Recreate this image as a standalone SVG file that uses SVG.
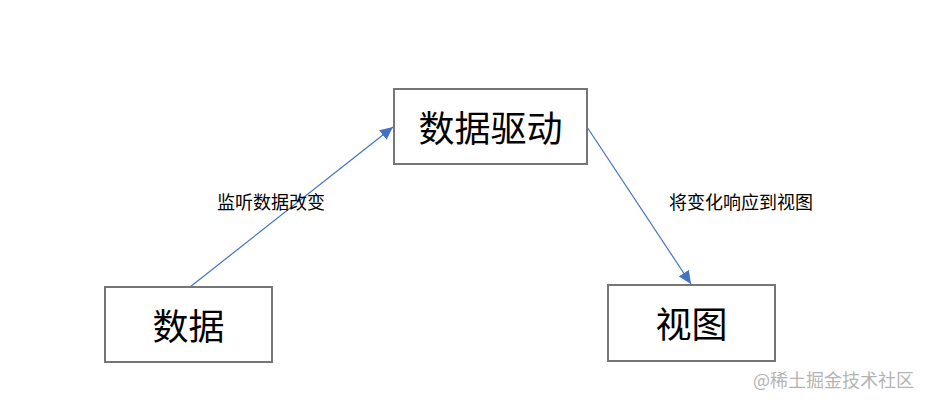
<svg xmlns="http://www.w3.org/2000/svg" width="933" height="405" viewBox="0 0 933 405">
  <style>
    .box { fill: #ffffff; stroke: #767676; stroke-width: 2; }
    .big { font-family: "Noto Sans CJK SC", "Liberation Sans", sans-serif; font-size: 36px; fill: #000000; text-anchor: middle; }
    .lbl { font-family: "Noto Sans CJK SC", "Liberation Sans", sans-serif; font-size: 18px; fill: #000000; text-anchor: middle; }
    .edge { fill: none; stroke: #4472C4; stroke-width: 1.2; }
    .wm { font-family: "Noto Sans CJK SC", "Liberation Sans", sans-serif; font-size: 18px; fill: #b4b4b4; }
  </style>
  <defs>
    <marker id="arrow" markerUnits="userSpaceOnUse" markerWidth="14" markerHeight="12" refX="13" refY="6" orient="auto">
      <path d="M0,0 L13,6 L0,12 Z" fill="#4472C4"/>
    </marker>
  </defs>
  <rect x="0" y="0" width="933" height="405" fill="#ffffff"/>
  <g id="connectors">
    <line class="edge" x1="190" y1="287" x2="393" y2="127" marker-end="url(#arrow)"/>
    <line class="edge" x1="587" y1="127" x2="691" y2="284" marker-end="url(#arrow)"/>
    <text class="lbl" x="271" y="209">监听数据改变</text>
    <text class="lbl" x="741" y="209">将变化响应到视图</text>
  </g>
  <g id="node-driver">
    <rect class="box" x="394" y="89" width="193" height="75"/>
    <text class="big" x="490.5" y="142">数据驱动</text>
  </g>
  <g id="node-data">
    <rect class="box" x="105" y="287" width="167" height="75"/>
    <text class="big" x="188.5" y="340">数据</text>
  </g>
  <g id="node-view">
    <rect class="box" x="608" y="285" width="167" height="76"/>
    <text class="big" x="691.5" y="338">视图</text>
  </g>
  <text class="wm" x="753" y="387">@稀土掘金技术社区</text>
</svg>
